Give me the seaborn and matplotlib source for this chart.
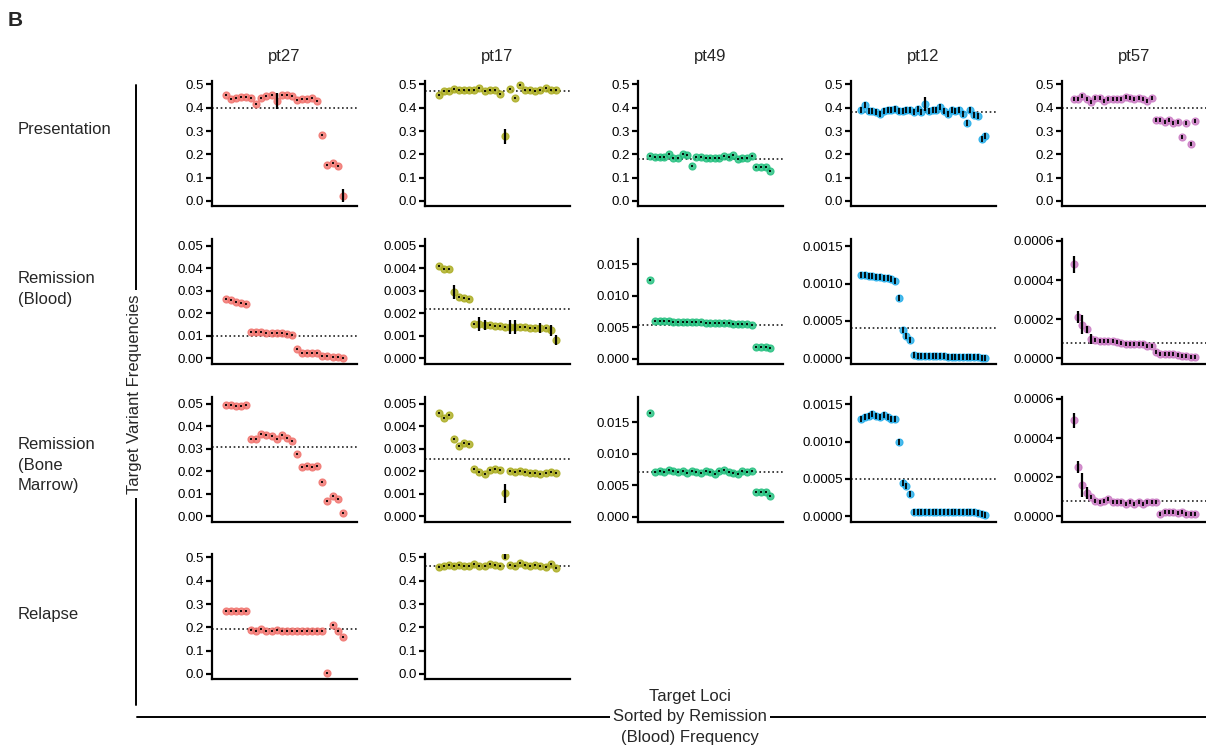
import matplotlib
matplotlib.use("Agg")
import matplotlib.pyplot as plt
import matplotlib.ticker as mticker
from matplotlib.lines import Line2D
import numpy as np
import pandas as pd
import seaborn as sns

sns.set_style("ticks")
plt.rcParams["font.family"] = ["Liberation Sans", "DejaVu Sans"]

patients = ["pt27", "pt17", "pt49", "pt12", "pt57"]
stages = ["Presentation", "Remission (Blood)", "Remission (Bone Marrow)", "Relapse"]
stage_labels = ["Presentation", "Remission\n(Blood)", "Remission\n(Bone\nMarrow)", "Relapse"]
colors = ["#F0706A", "#A9AA1C", "#1FBE7C", "#1EAAE8", "#C978C2"]

# ---- pt27 (24 loci)
pt27_pres = [0.456, 0.439, 0.44, 0.446, 0.446, 0.44, 0.418, 0.44, 0.449, 0.456, 0.43, 0.453,
             0.453, 0.449, 0.434, 0.437, 0.439, 0.44, 0.43, 0.284, 0.155, 0.161, 0.149, 0.023]
pt27_blood = [0.0265, 0.0259, 0.0251, 0.0247, 0.0243, 0.0115, 0.0115, 0.0115, 0.011, 0.011,
              0.011, 0.011, 0.0107, 0.0101, 0.0041, 0.0021, 0.0021, 0.0021, 0.0021, 0.001,
              0.001, 0.0004, 0.0004, 0.0002]
pt27_bm = [0.0493, 0.0493, 0.0488, 0.0488, 0.0494, 0.0341, 0.0342, 0.0365, 0.036, 0.0357,
           0.0341, 0.0362, 0.0346, 0.0334, 0.0275, 0.022, 0.0225, 0.022, 0.0222, 0.0154,
           0.0069, 0.0091, 0.0076, 0.0016]
pt27_relapse = [0.272, 0.272, 0.27, 0.27, 0.27, 0.189, 0.185, 0.193, 0.185, 0.185, 0.189,
                0.185, 0.185, 0.185, 0.185, 0.185, 0.185, 0.185, 0.185, 0.185, 0.005, 0.21,
                0.185, 0.158]

# ---- pt17 (24 loci)
pt17_pres = [0.456, 0.474, 0.474, 0.482, 0.476, 0.478, 0.476, 0.478, 0.485, 0.474, 0.478,
             0.475, 0.458, 0.278, 0.482, 0.44, 0.497, 0.475, 0.478, 0.473, 0.475, 0.485,
             0.478, 0.475]
pt17_blood = [0.0041, 0.00397, 0.00397, 0.00294, 0.00271, 0.00268, 0.00264, 0.00153,
              0.00153, 0.00149, 0.00146, 0.00145, 0.00142, 0.0014, 0.00139, 0.00139,
              0.00137, 0.00137, 0.00136, 0.00136, 0.00134, 0.00133, 0.00124, 0.0008]
pt17_bm = [0.00457, 0.00438, 0.00448, 0.00345, 0.00313, 0.00327, 0.00323, 0.00209,
           0.00198, 0.00189, 0.00205, 0.00208, 0.00206, 0.00102, 0.00202, 0.00195,
           0.00202, 0.00195, 0.00194, 0.00194, 0.00189, 0.00194, 0.00198, 0.00194]
pt17_relapse = [0.46, 0.465, 0.468, 0.465, 0.468, 0.465, 0.465, 0.47, 0.465, 0.465, 0.47,
                0.468, 0.465, 0.505, 0.468, 0.465, 0.478, 0.468, 0.462, 0.468, 0.465,
                0.458, 0.47, 0.455]

# ---- pt49 (27 loci)
pt49_pres = [0.193, 0.19, 0.19, 0.19, 0.203, 0.186, 0.186, 0.2, 0.196, 0.149, 0.189, 0.189,
             0.183, 0.186, 0.183, 0.183, 0.193, 0.189, 0.196, 0.181, 0.186, 0.186, 0.193,
             0.146, 0.146, 0.146, 0.13]
pt49_blood = [0.0125, 0.00602, 0.006, 0.00598, 0.00595, 0.00592, 0.0059, 0.00588, 0.00585,
              0.00582, 0.0058, 0.00578, 0.00575, 0.00572, 0.0057, 0.00568, 0.00565,
              0.00562, 0.0056, 0.00556, 0.00552, 0.00546, 0.0054, 0.00195, 0.0019,
              0.0019, 0.00168]
pt49_bm = [0.0165, 0.0071, 0.0073, 0.0071, 0.0074, 0.0072, 0.0071, 0.0073, 0.007, 0.0072,
           0.0071, 0.0069, 0.0072, 0.0071, 0.0068, 0.0072, 0.0074, 0.0071, 0.007, 0.0068,
           0.0072, 0.0071, 0.0073, 0.0039, 0.0039, 0.004, 0.0033]

# ---- pt12 (34 loci)
pt12_pres = [0.39, 0.41, 0.385, 0.385, 0.38, 0.375, 0.385, 0.39, 0.39, 0.395, 0.385, 0.385,
             0.39, 0.39, 0.38, 0.395, 0.38, 0.415, 0.385, 0.39, 0.39, 0.405, 0.387, 0.373,
             0.392, 0.385, 0.39, 0.375, 0.335, 0.39, 0.37, 0.365, 0.265, 0.28]
pt12_blood = [0.00112, 0.00111, 0.0011, 0.0011, 0.00109, 0.00109, 0.00108, 0.00107, 0.00106,
              0.00104, 0.00081, 0.00038, 0.0003, 0.00024, 0.000035, 0.00003, 0.00003,
              0.000028, 0.000027, 0.000026, 0.000025, 0.000024, 0.000022, 0.00002, 0.00002,
              0.000018, 0.000016, 0.000015, 0.000013, 0.000012, 0.00001, 0.000008,
              0.000007, 0.000005]
pt12_bm = [0.0013, 0.00133, 0.00135, 0.00137, 0.00135, 0.00133, 0.00136, 0.00133, 0.00131,
           0.00131, 0.001, 0.00045, 0.0004, 0.0003, 0.00006, 0.00006, 0.00006, 0.00006,
           0.00006, 0.00006, 0.00006, 0.00006, 0.00006, 0.00006, 0.00006, 0.00006,
           0.00006, 0.00006, 0.00006, 0.00005, 0.00005, 0.00004, 0.00003, 0.00002]

# ---- pt57 (29 loci)
pt57_pres = [0.437, 0.437, 0.45, 0.437, 0.426, 0.443, 0.443, 0.43, 0.436, 0.437, 0.437,
             0.437, 0.445, 0.44, 0.436, 0.44, 0.437, 0.43, 0.443, 0.349, 0.349, 0.339,
             0.346, 0.336, 0.341, 0.275, 0.334, 0.244, 0.343]
pt57_blood = [0.00048, 0.000212, 0.000172, 0.000147, 0.0000995, 0.000094, 0.00009, 0.00009,
              0.000087, 0.000086, 0.000085, 0.00008, 0.000074, 0.000074, 0.000074,
              0.000074, 0.000074, 0.000061, 0.000061, 0.000032, 0.00002, 0.00002, 0.00002,
              0.00002, 0.000014, 0.000012, 0.00001, 0.000007, 0.000005]
pt57_bm = [0.00049, 0.00025, 0.00016, 0.00012, 0.0001, 0.00008, 0.00007, 0.00008, 0.00009,
           0.00007, 0.00007, 0.00007, 0.00006, 0.00007, 0.00006, 0.00007, 0.00006, 0.00007,
           0.00007, 0.00007, 0.00001, 0.00002, 0.00002, 0.00002, 0.000015, 0.00002,
           0.00001, 0.00001, 0.00001]

values = {
    ("pt27", 0): pt27_pres, ("pt27", 1): pt27_blood, ("pt27", 2): pt27_bm, ("pt27", 3): pt27_relapse,
    ("pt17", 0): pt17_pres, ("pt17", 1): pt17_blood, ("pt17", 2): pt17_bm, ("pt17", 3): pt17_relapse,
    ("pt49", 0): pt49_pres, ("pt49", 1): pt49_blood, ("pt49", 2): pt49_bm,
    ("pt12", 0): pt12_pres, ("pt12", 1): pt12_blood, ("pt12", 2): pt12_bm,
    ("pt57", 0): pt57_pres, ("pt57", 1): pt57_blood, ("pt57", 2): pt57_bm,
}

# visible error bars (index: half width)
errors = {
    ("pt27", 0): {10: 0.034, 23: 0.028},
    ("pt17", 0): {13: 0.032},
    ("pt17", 1): {3: 0.0003, 8: 0.0003, 9: 0.00022, 14: 0.0003, 15: 0.0003, 20: 0.00022,
                  22: 0.00024, 23: 0.00022},
    ("pt17", 2): {13: 0.00042},
    ("pt17", 3): {13: 0.012},
    ("pt12", 0): {17: 0.03},
    ("pt57", 1): {0: 0.000042, 1: 0.00003, 2: 0.00005, 3: 0.00002, 4: 0.000025},
    ("pt57", 2): {0: 0.00004, 1: 0.00003, 2: 0.00006, 3: 0.00003},
}

# dotted reference lines
ref_lines = {
    ("pt27", 0): 0.40, ("pt27", 1): 0.010, ("pt27", 2): 0.0309, ("pt27", 3): 0.193,
    ("pt17", 0): 0.474, ("pt17", 1): 0.00217, ("pt17", 2): 0.00254, ("pt17", 3): 0.465,
    ("pt49", 0): 0.181, ("pt49", 1): 0.0053, ("pt49", 2): 0.0071,
    ("pt12", 0): 0.38, ("pt12", 1): 0.0004, ("pt12", 2): 0.0005,
    ("pt57", 0): 0.401, ("pt57", 1): 0.0000775, ("pt57", 2): 0.000075,
}

ticks_half = [0.0, 0.1, 0.2, 0.3, 0.4, 0.5]
ticks_05 = [0.0, 0.01, 0.02, 0.03, 0.04, 0.05]
ticks_005 = [0.0, 0.001, 0.002, 0.003, 0.004, 0.005]
ticks_015 = [0.0, 0.005, 0.010, 0.015]
ticks_0015 = [0.0, 0.0005, 0.0010, 0.0015]
ticks_0006 = [0.0, 0.0002, 0.0004, 0.0006]

# (ticks, decimals, ylim)
axis_spec = {
    "pt27": [(ticks_half, 1, (-0.022, 0.515)), (ticks_05, 2, (-0.0026, 0.053)),
             (ticks_05, 2, (-0.0026, 0.053)), (ticks_half, 1, (-0.022, 0.515))],
    "pt17": [(ticks_half, 1, (-0.022, 0.515)), (ticks_005, 3, (-0.00026, 0.0053)),
             (ticks_005, 3, (-0.00026, 0.0053)), (ticks_half, 1, (-0.022, 0.515))],
    "pt49": [(ticks_half, 1, (-0.022, 0.515)), (ticks_015, 3, (-0.0008, 0.019)),
             (ticks_015, 3, (-0.0008, 0.019))],
    "pt12": [(ticks_half, 1, (-0.022, 0.515)), (ticks_0015, 4, (-0.00008, 0.0016)),
             (ticks_0015, 4, (-0.00008, 0.0016))],
    "pt57": [(ticks_half, 1, (-0.022, 0.515)), (ticks_0006, 4, (-0.00003, 0.00061)),
             (ticks_0006, 4, (-0.00003, 0.00061))],
}
center_size = {"pt27": 4, "pt17": 4, "pt49": 4, "pt12": 16, "pt57": 9}

W, H = 1206, 751
fig = plt.figure(figsize=(W / 100, H / 100), dpi=100)

col_left = [212, 425, 638, 851, 1062]
row_bottom = [206, 364, 522, 679]
ax_w, ax_h = 145, 125


def fx(px):
    return px / W


def fy(py):
    return 1 - py / H


for ci, pt in enumerate(patients):
    color = colors[ci]
    for ri in range(len(stages)):
        if (pt, ri) not in values:
            continue
        vals = values[(pt, ri)]
        n = len(vals)
        df = pd.DataFrame({"locus": np.arange(n), "freq": vals})
        ax = fig.add_axes([fx(col_left[ci]), fy(row_bottom[ri]), fx(ax_w), ax_h / H])
        sns.scatterplot(data=df, x="locus", y="freq", ax=ax, color=color, s=26,
                        edgecolor=color, linewidth=0.8, alpha=0.8, legend=False, zorder=2)
        err = np.zeros(n)
        for k, e in errors.get((pt, ri), {}).items():
            err[k] = e
        ax.errorbar(df["locus"], df["freq"], yerr=err, fmt="none", ecolor="black",
                    elinewidth=1.6, capsize=0, zorder=3)
        ax.scatter(df["locus"], df["freq"], marker="|", s=center_size[pt], color="black",
                   linewidths=1.3, zorder=4)
        ax.axhline(ref_lines[(pt, ri)], color="#222222", linestyle=(0, (1, 1.6)),
                   linewidth=1.2, zorder=1)
        ticks, dec, ylim = axis_spec[pt][ri]
        ax.set_ylim(*ylim)
        ax.set_xlim(-2.7, n - 1 + 2.8)
        ax.yaxis.set_major_locator(mticker.FixedLocator(ticks))
        ax.yaxis.set_major_formatter(mticker.FormatStrFormatter("%%.%df" % dec))
        ax.set_xticks([])
        ax.set_xlabel("")
        ax.set_ylabel("")
        sns.despine(ax=ax)
        for side in ["left", "bottom"]:
            ax.spines[side].set_linewidth(1.6)
            ax.spines[side].set_color("black")
        ax.tick_params(axis="y", length=4, width=1.6, labelsize=9.5, pad=2, colors="black")

# column titles
for ci, pt in enumerate(patients):
    fig.text(fx(col_left[ci] + ax_w / 2), fy(57), pt, ha="center", va="center", fontsize=12)

# row labels
for y, lab in zip([130, 289, 465, 614], stage_labels):
    fig.text(fx(18), fy(y), lab, ha="left", va="center", fontsize=12, linespacing=1.45)

fig.text(fx(8), fy(20), "B", ha="left", va="center", fontsize=15, fontweight="bold")

# shared y label with bracket line
fig.add_artist(Line2D([fx(136), fx(136)], [fy(85), fy(705)], color="black", linewidth=1.4))
fig.text(fx(135), fy(394), "Target Variant Frequencies", rotation=90, ha="center",
         va="center", fontsize=12,
         bbox=dict(facecolor="white", edgecolor="none", pad=3))

# shared x label with bracket line
fig.add_artist(Line2D([fx(137), fx(1206)], [fy(717), fy(717)], color="black", linewidth=1.4))
fig.text(fx(690), fy(717), "Target Loci\nSorted by Remission\n(Blood) Frequency",
         ha="center", va="center", fontsize=12, linespacing=1.45,
         bbox=dict(facecolor="white", edgecolor="none", pad=2))

fig.savefig("out.png", dpi=100)
